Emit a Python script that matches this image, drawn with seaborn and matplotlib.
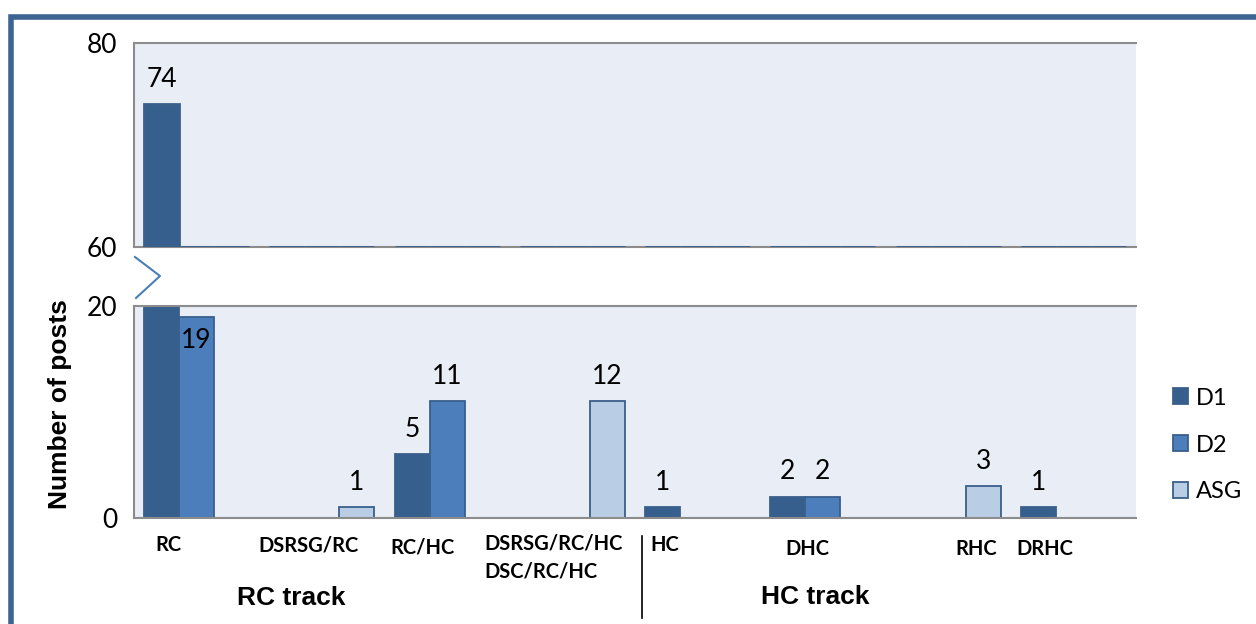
import numpy as np
import pandas as pd
import matplotlib
matplotlib.use('Agg')
import matplotlib.pyplot as plt
import seaborn as sns
from matplotlib.patches import Rectangle
from matplotlib.lines import Line2D

categories = ['RC', 'DSRSG/RC', 'RC/HC', 'DSRSG/RC/HC', 'HC', 'DHC', 'RHC', 'DRHC']
series = ['D1', 'D2', 'ASG']
d1 = [74, 0, 6, 0, 1, 2, 0, 1]
d2 = [19, 0, 11, 0, 0, 2, 0, 0]
asg = [0, 1, 0, 11, 0, 0, 3, 0]
# printed data labels (as shown on the chart)
d1_lab = ['74', '', '5', '', '1', '2', '', '1']
d2_lab = ['19', '', '11', '', '', '2', '', '']
asg_lab = ['', '1', '', '12', '', '', '3', '']

# x-axis texts: (text, x px, y px)
cat_texts = [('RC', 168, 545), ('DSRSG/RC', 309, 545), ('RC/HC', 422, 548),
             ('HC', 665, 545), ('DHC', 807, 549), ('RHC', 976, 549), ('DRHC', 1045, 549)]
track_texts = [('RC track', 291, 598), ('HC track', 815, 597)]

colors = ['#365F8E', '#4C7EBC', '#B9CDE5']
edge = '#3A5F8B'
bg = '#E9EDF5'

df = pd.DataFrame({'category': categories * 3,
                   'series': sum([[s] * len(categories) for s in series], []),
                   'value': d1 + d2 + asg,
                   'label': d1_lab + d2_lab + asg_lab})
df['top'] = (df['value'] - 60).clip(lower=0)

W, H = 1256, 624
fig = plt.figure(figsize=(W / 100, H / 100), dpi=100)
ax_top = fig.add_axes([134 / W, 1 - 247 / H, 1002 / W, 204 / H])
ax_bot = fig.add_axes([134 / W, 1 - 518 / H, 1002 / W, 212 / H])

pal = dict(zip(series, colors))
sns.barplot(data=df, x='category', y='top', hue='series', palette=pal, order=categories,
            hue_order=series, width=0.84, bottom=60, edgecolor=edge, linewidth=2,
            ax=ax_top, legend=False, saturation=1, zorder=3)
sns.barplot(data=df, x='category', y='value', hue='series', palette=pal, order=categories,
            hue_order=series, width=0.84, edgecolor=edge, linewidth=1.3,
            ax=ax_bot, saturation=1)

handles, labels = ax_bot.get_legend_handles_labels()
ax_bot.get_legend().remove()

num_font = 'Lato'
for ax, lo, hi in [(ax_top, 60, 80), (ax_bot, 0, 20)]:
    ax.set_ylim(lo, hi)
    ax.set_xlim(-0.5, len(categories) - 0.5)
    ax.set_facecolor(bg)
    ax.set_yticks([lo, hi])
    ax.set_yticklabels([str(lo), str(hi)], fontsize=19, fontfamily=num_font)
    ax.tick_params(axis='y', length=0, pad=12)
    ax.set_xticks([])
    ax.set_xlabel('')
    ax.set_ylabel('')
    for s in ax.spines.values():
        s.set_color('#8C8C8C')
        s.set_linewidth(1.5)
    ax.spines['right'].set_visible(False)

# data labels
for ax, panel in [(ax_top, 'top'), (ax_bot, 'bot')]:
    for cont, s in zip(ax.containers, series):
        sub = df[df['series'] == s].reset_index(drop=True)
        for patch, (_, row) in zip(cont.patches, sub.iterrows()):
            if not row['label']:
                continue
            v = row['value']
            xc = patch.get_x() + patch.get_width() / 2
            lo, hi = ax.get_ylim()
            if panel == 'top':
                if v < lo:
                    continue
                ax.annotate(row['label'], (xc, v), xytext=(0, 18), textcoords='offset points',
                            ha='center', va='center', fontsize=19, fontfamily=num_font)
            else:
                if v > hi + 1:
                    continue
                off = -17 if v > hi - 3 else 18
                ax.annotate(row['label'], (xc, v), xytext=(0, off), textcoords='offset points',
                            ha='center', va='center', fontsize=19, fontfamily=num_font,
                            annotation_clip=False)

ax_bot.set_ylabel('Number of posts', fontsize=19, fontweight='bold', fontfamily='Liberation Sans')
ax_bot.yaxis.set_label_coords(-0.062, 0.538)

for t, x, y in cat_texts:
    fig.text(x / W, 1 - y / H, t, ha='center', va='center', fontsize=14.5,
             fontweight='bold', fontfamily=num_font)
fig.text(484 / W, 1 - 544 / H, 'DSRSG/RC/HC', ha='left', va='center', fontsize=14.5,
         fontweight='bold', fontfamily=num_font)
fig.text(484 / W, 1 - 571 / H, 'DSC/RC/HC', ha='left', va='center', fontsize=14.5,
         fontweight='bold', fontfamily=num_font)
for t, x, y in track_texts:
    fig.text(x / W, 1 - y / H, t, ha='center', va='center', fontsize=19,
             fontweight='bold', fontfamily='Liberation Sans')

# divider between tracks
fig.add_artist(Line2D([642 / W, 642 / W], [1 - 536 / H, 1 - 618 / H], color='black', lw=1.2))
# axis break mark
fig.add_artist(Line2D([135 / W, 160 / W, 136 / W], [1 - 257 / H, 1 - 276 / H, 1 - 298 / H],
                      color='#4A7EBB', lw=1.5))
# outer frame
fig.add_artist(Rectangle((10.5 / W, -0.1), 1.2, 1 - 17 / H + 0.1, transform=fig.transFigure,
                         fill=False, edgecolor='#3E6494', lw=4))

fig.legend(handles, labels, loc='center left', bbox_to_anchor=(1173 / W, 1 - 445 / H),
           frameon=False, handlelength=0.65, handleheight=0.65, borderpad=0, borderaxespad=0,
           handletextpad=0.3, labelspacing=1.1, prop={'family': num_font, 'size': 17})

fig.savefig('out.png', dpi=100)
